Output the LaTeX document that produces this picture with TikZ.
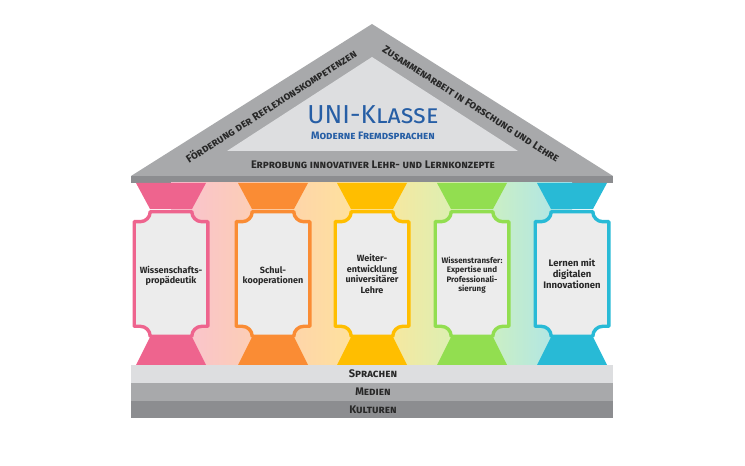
\documentclass[tikz,border=0pt]{standalone}
\usepackage{fontspec}
\setmainfont{Fira Sans}
\newfontfamily\scfont[Letters=SmallCaps]{Fira Sans}

\definecolor{pinkc}{RGB}{238,100,142}
\definecolor{orangec}{RGB}{250,140,52}
\definecolor{yellowc}{RGB}{255,190,0}
\definecolor{greenc}{RGB}{146,222,80}
\definecolor{bluec}{RGB}{40,186,214}
\definecolor{roofgray}{RGB}{168,169,171}
\definecolor{palegray}{RGB}{221,222,224}
\definecolor{deepgray}{RGB}{140,141,144}
\definecolor{bodygray}{RGB}{236,236,236}
\definecolor{textdark}{RGB}{40,40,40}
\definecolor{titleblue}{RGB}{38,94,165}

\tikzset{
    captxt/.style={font=\scfont\bfseries\fontsize{11}{12}\selectfont, text=textdark, inner sep=0pt},
    coltxt/.style={font=\bfseries\fontsize{9}{10.5}\selectfont, text=textdark, align=center, inner sep=0pt},
    colbody/.style={fill=bodygray, line width=3.4pt, line join=round},
}

\begin{document}
\begin{tikzpicture}[x=1pt, y=1pt]
        \useasboundingbox (0, 0) rectangle (745, 466);

        % roof
        \fill[roofgray] (131, 290) -- (372, 442) -- (613, 290) -- cycle;
        \fill[palegray] (227, 315) -- (372, 409) -- (518, 315) -- cycle;
        \fill[deepgray] (131, 283) rectangle (613, 290);

        % pastel shafts between the columns
        \shade[left color=pinkc!40, right color=orangec!40] (171, 101) rectangle (273, 283);
        \shade[left color=orangec!40, right color=yellowc!40] (273, 101) rectangle (372, 283);
        \shade[left color=yellowc!40, right color=greenc!40] (372, 101) rectangle (472, 283);
        \shade[left color=greenc!40, right color=bluec!40] (472, 101) rectangle (572, 283);

        \foreach \cx/\col in {171/pinkc, 273/orangec, 372/yellowc, 472/greenc, 572/bluec} {
            \fill[\col] (\cx-35, 283) -- (\cx+35, 283) -- (\cx+21, 257) -- (\cx-21, 257) -- cycle;
            \fill[\col] (\cx-21.5, 128) -- (\cx+21.5, 128) -- (\cx+35, 101) -- (\cx-35, 101) -- cycle;
            \draw[colbody, draw=\col] (\cx-36.8, 244.3) -- (\cx-30.8, 244.3)
                arc[start angle=-90, end angle=0, radius=10] -- (\cx+20.8, 254.3)
                arc[start angle=180, end angle=270, radius=10] -- (\cx+36.8, 244.3)
                -- (\cx+36.8, 139.7) -- (\cx+30.8, 139.7)
                arc[start angle=90, end angle=180, radius=10] -- (\cx-20.8, 129.7)
                arc[start angle=0, end angle=90, radius=10] -- (\cx-36.8, 139.7) -- cycle;
        }

        % base steps
        \fill[palegray] (131, 83) rectangle (613, 101);
        \fill[roofgray] (131, 65) rectangle (613, 83);
        \fill[deepgray] (131, 48) rectangle (613, 65);

        \node[font=\fontsize{26}{28}\selectfont, text=titleblue] (title) at (373, 351) {UNI-{\scfont Klasse}};
        \node[captxt, text=titleblue, font=\scfont\bfseries\fontsize{10.8}{12}\selectfont] (subtitle) at (373, 330) {Moderne Fremdsprachen};
        \node[captxt] (erprobung) at (373, 301) {Erprobung innovativer Lehr- und Lernkonzepte};
        \node[captxt, rotate=32.5] (foerderung) at (271, 360) {Förderung der Reflexionskompetenzen};
        \node[captxt, rotate=-32.5] (zusammen) at (471, 362) {Zusammenarbeit in Forschung und Lehre};

        \node[coltxt] (wissen) at (171, 190) {Wissenschafts-\\propädeutik};
        \node[coltxt] (schul) at (273, 190) {Schul-\\kooperationen};
        \node[coltxt] (weiter) at (372, 192) {Weiter-\\entwicklung\\universitärer\\Lehre};
        \node[coltxt, font=\bfseries\fontsize{8}{9.5}\selectfont] (transfer) at (472, 191) {Wissenstransfer:\\Expertise und\\Professionali-\\sierung};
        \node[coltxt, font=\bfseries\fontsize{9.5}{11}\selectfont] (lernen) at (572, 192) {Lernen mit\\digitalen\\Innovationen};

        \node[captxt] (sprachen) at (373, 92) {Sprachen};
        \node[captxt] (medien) at (373, 74) {Medien};
        \node[captxt] (kulturen) at (373, 56.5) {Kulturen};
    \end{tikzpicture}
\end{document}
